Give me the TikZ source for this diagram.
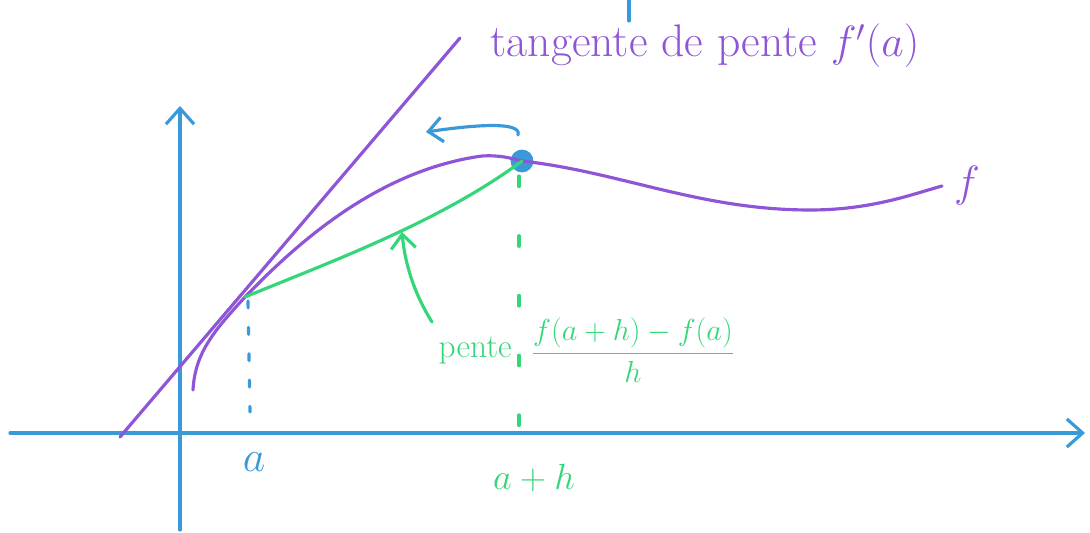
\documentclass[tikz,border=0pt]{standalone}
\usepackage{amsmath,amssymb}
\usepackage{xcolor}
\usepackage{tikz}
\usetikzlibrary{arrows.meta,positioning,calc}
\definecolor{penviolet}{RGB}{142,85,214}
\definecolor{penblue}{RGB}{58,154,217}
\definecolor{pengreen}{RGB}{52,214,122}
\tikzset{
  axisline/.style={penblue,line width=1.8pt,-{Straight Barb[length=9pt,width=16pt,line width=1.8pt]}},
  curveline/.style={penviolet,line width=1.8pt},
  secantline/.style={pengreen,line width=1.8pt},
  guide/.style={line width=1.8pt},
  handarrow/.style={line width=1.8pt,-{Straight Barb[length=8pt,width=14pt,line width=1.8pt]}}
}

\begin{document}
\begin{tikzpicture}[x=0.02cm,y=-0.02cm,line cap=round,line join=round]
\useasboundingbox (0,0) rectangle (1090,533);
\coordinate (xs) at (10,433);
\coordinate (xe) at (1085,433);
\coordinate (ys) at (180,530);
\coordinate (ye) at (180,106);
\draw[axisline] (xs) -- (xe);
\draw[axisline] (ys) -- (ye);
\coordinate (mark0) at (629,0);
\coordinate (mark1) at (629,21);
\draw[penblue,line width=1.8pt] (mark0) -- (mark1);
\coordinate (ta) at (120,437);
\coordinate (tb) at (460,38);
\draw[curveline] (ta) -- (tb);
\coordinate (pa) at (245,297);
\node[circle,fill=penblue,inner sep=0pt,minimum size=13pt] (pah) at (522,161) {};
\coordinate (fs) at (193,390);
\coordinate (ftop) at (482,156);
\coordinate (fmin) at (810,210);
\coordinate (fe) at (942,186);
\draw[curveline] (fs) .. controls (195,352) and (215,330) .. (pa)
  .. controls (300,240) and (380,170) .. (ftop)
  .. controls (500,155) and (510,158) .. (pah.center)
  .. controls (620,172) and (700,210) .. (fmin)
  .. controls (870,210) and (910,195) .. (fe);
\draw[secantline] (pa) .. controls (330,262) and (440,222) .. (pah.center);
\coordinate (ga) at (248,301);
\coordinate (gb) at (250,412);
\draw[guide,penblue,dash pattern=on 4pt off 11pt] (ga) -- (gb);
\coordinate (gc) at (519,176);
\coordinate (gd) at (519,426);
\draw[guide,pengreen,dash pattern=on 6pt off 28pt] (gc) -- (gd);
\node[penblue,font=\fontsize{26}{30}\selectfont] (la) at (254,462) {$a$};
\node[pengreen,font=\fontsize{22}{26}\selectfont] (lah) at (534,478) {$a+h$};
\node[penviolet,font=\fontsize{26}{30}\selectfont] (ltan) at (705,46) {tangente de pente $f'(a)$};
\node[penviolet,font=\fontsize{38}{42}\selectfont] (lf) at (967,186) {$f$};
\node[pengreen,font=\fontsize{18}{22}\selectfont] (frac) at (633,350) {$\dfrac{f(a+h)-f(a)}{h}$};
\node[pengreen,font=\fontsize{19}{23}\selectfont,left=4pt of frac] (pente) {pente};
\coordinate (ba) at (518,135);
\coordinate (bb) at (426,132);
\draw[penblue,handarrow] (ba) .. controls (522,122) and (480,124) .. (bb);
\coordinate (gsa) at (432,322);
\coordinate (gsb) at (402,232);
\draw[pengreen,handarrow] (gsa) .. controls (415,295) and (405,265) .. (gsb);
\end{tikzpicture}
\end{document}
